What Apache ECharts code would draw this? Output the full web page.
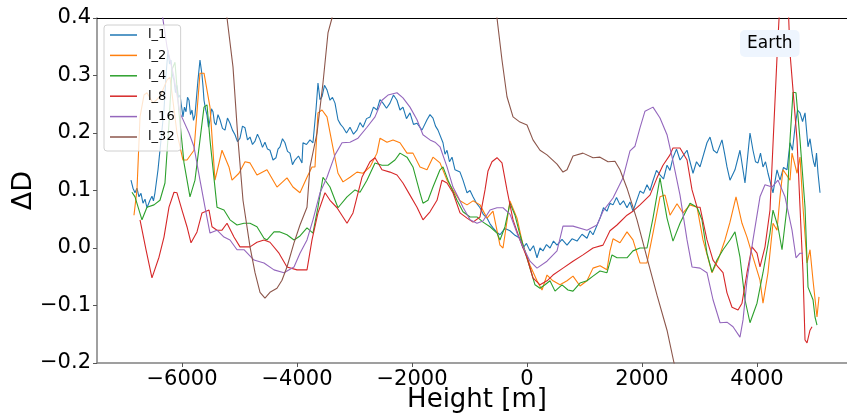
<!DOCTYPE html>
<html><head><meta charset="utf-8">
<script src="https://cdn.jsdelivr.net/npm/echarts@6/dist/echarts.min.js"></script>
<style>html,body{margin:0;padding:0;background:#fff}#c{width:847px;height:418px}</style>
</head><body><div id="c"></div>
<script>
const seriesNames = ['l_1','l_2','l_4','l_8','l_16','l_32'];
const xTicks = [-6000,-4000,-2000,0,2000,4000];
const yTicks = [-0.2,-0.1,0,0.1,0.2,0.3,0.4];

const l1X = [-6887,-6852,-6817,-6783,-6748,-6713,-6678,-6643,-6609,-6557,-6522,-6496,-6470,-6417,-6365,-6313,-6278,-6243,-6217,-6191,-6165,-6139,-6113,-6087,-6061,-6035,-5983,-5957,-5930,-5904,-5878,-5852,-5826,-5800,-5774,-5722,-5687,-5652,-5635,-5617,-5591,-5565,-5539,-5513,-5487,-5461,-5435,-5409,-5374,-5339,-5296,-5252,-5209,-5165,-5122,-5078,-5035,-4991,-4948,-4904,-4861,-4817,-4774,-4730,-4687,-4643,-4600,-4557,-4513,-4470,-4417,-4365,-4330,-4296,-4252,-4209,-4165,-4122,-4078,-4035,-3974,-3913,-3896,-3835,-3774,-3722,-3670,-3635,-3600,-3565,-3522,-3478,-3426,-3383,-3339,-3287,-3243,-3200,-3139,-3078,-3017,-2957,-2904,-2852,-2791,-2730,-2670,-2609,-2557,-2504,-2443,-2383,-2322,-2261,-2209,-2157,-2096,-2035,-1974,-1913,-1826,-1739,-1687,-1635,-1591,-1548,-1461,-1426,-1391,-1348,-1304,-1252,-1165,-1113,-1043,-991,-939,-878,-817,-757,-696,-643,-591,-530,-470,-383,-296,-209,-122,-70,-9,52,113,174,226,278,339,400,461,522,609,696,783,870,957,1043,1096,1148,1270,1330,1391,1443,1496,1557,1617,1678,1739,1791,1843,1965,2026,2087,2139,2191,2252,2313,2374,2435,2487,2539,2600,2661,2783,2835,2887,2948,3009,3130,3183,3243,3304,3391,3435,3478,3530,3617,3704,3791,3878,3930,3974,4017,4061,4104,4148,4191,4278,4348,4400,4461,4522,4574,4617,4661,4704,4748,4792,4835,4887,4922,4957,4983,5009,5035,5061,5096];
const l1Y = [0.118,0.104,0.096,0.104,0.089,0.095,0.078,0.085,0.070,0.083,0.090,0.082,0.096,0.136,0.188,0.240,0.301,0.344,0.320,0.327,0.300,0.292,0.270,0.283,0.262,0.266,0.228,0.245,0.237,0.262,0.257,0.232,0.240,0.222,0.231,0.292,0.327,0.301,0.282,0.257,0.242,0.231,0.210,0.223,0.242,0.237,0.218,0.214,0.232,0.223,0.208,0.205,0.226,0.217,0.205,0.197,0.185,0.191,0.212,0.209,0.188,0.193,0.180,0.186,0.198,0.188,0.175,0.184,0.172,0.170,0.153,0.157,0.172,0.176,0.190,0.183,0.168,0.165,0.145,0.153,0.160,0.148,0.183,0.180,0.188,0.183,0.240,0.287,0.258,0.263,0.283,0.275,0.257,0.262,0.252,0.223,0.215,0.210,0.200,0.210,0.198,0.205,0.218,0.210,0.225,0.228,0.245,0.240,0.258,0.252,0.243,0.252,0.266,0.257,0.240,0.245,0.225,0.235,0.215,0.217,0.205,0.223,0.232,0.226,0.212,0.205,0.183,0.163,0.170,0.150,0.158,0.136,0.132,0.118,0.096,0.100,0.089,0.078,0.070,0.058,0.052,0.042,0.035,0.028,0.023,0.034,0.030,0.022,0.017,0.000,0.008,-0.005,0.004,-0.017,0.000,-0.005,0.006,0.000,0.012,0.005,0.015,0.005,0.016,0.012,0.024,0.017,0.030,0.023,0.052,0.070,0.064,0.078,0.075,0.088,0.075,0.082,0.070,0.080,0.064,0.099,0.095,0.110,0.100,0.117,0.135,0.127,0.120,0.144,0.135,0.157,0.172,0.153,0.170,0.150,0.130,0.150,0.141,0.183,0.193,0.170,0.165,0.188,0.165,0.141,0.118,0.136,0.170,0.113,0.200,0.170,0.150,0.148,0.165,0.141,0.150,0.130,0.096,0.136,0.118,0.140,0.136,0.183,0.170,0.210,0.240,0.235,0.220,0.235,0.176,0.190,0.165,0.150,0.141,0.165,0.130,0.096];

const l2X = [-6835,-6783,-6730,-6661,-6609,-6504,-6383,-6261,-6209,-6087,-5983,-5913,-5791,-5687,-5617,-5513,-5426,-5304,-5183,-5130,-5009,-4904,-4817,-4696,-4522,-4348,-4174,-4070,-3948,-3826,-3739,-3687,-3635,-3565,-3478,-3391,-3287,-3200,-3078,-2957,-2852,-2730,-2609,-2556,-2435,-2330,-2209,-2087,-1983,-1861,-1739,-1635,-1513,-1391,-1287,-1165,-1043,-939,-817,-696,-591,-470,-417,-296,-174,-70,52,174,261,348,452,574,696,800,922,1043,1148,1270,1391,1443,1496,1617,1739,1843,1965,2087,2191,2313,2400,2487,2609,2713,2835,2957,3061,3217,3322,3443,3530,3635,3739,3826,3930,4052,4104,4191,4278,4348,4400,4452,4574,4609,4696,4748,4800,4870,4922,4974,5043,5078];
const l2Y = [0.057,0.101,0.228,0.266,0.270,0.252,0.263,0.292,0.297,0.200,0.153,0.153,0.170,0.304,0.304,0.245,0.118,0.170,0.141,0.118,0.130,0.150,0.148,0.127,0.136,0.106,0.122,0.106,0.096,0.123,0.141,0.141,0.235,0.240,0.228,0.183,0.130,0.115,0.123,0.132,0.130,0.141,0.165,0.191,0.184,0.188,0.183,0.165,0.165,0.141,0.136,0.158,0.148,0.118,0.101,0.082,0.075,0.082,0.075,0.052,0.064,0.005,0.000,0.082,0.052,0.005,-0.030,-0.057,-0.073,-0.047,-0.057,-0.064,-0.057,-0.049,-0.066,-0.057,-0.035,-0.031,-0.038,-0.005,0.016,0.009,0.028,0.014,-0.026,-0.026,0.026,0.089,0.092,0.057,0.077,0.061,0.075,0.071,0.014,-0.043,-0.021,0.014,0.045,0.089,0.043,0.019,-0.016,-0.056,-0.096,-0.043,0.043,0.031,0.089,0.136,0.118,0.165,0.130,0.158,0.071,-0.026,-0.003,-0.056,-0.120,-0.085];

const l4X = [-6870,-6817,-6696,-6609,-6487,-6383,-6296,-6226,-6174,-6122,-6052,-5965,-5861,-5774,-5687,-5617,-5565,-5513,-5391,-5270,-5165,-5043,-4922,-4817,-4696,-4574,-4522,-4400,-4296,-4174,-4052,-3948,-3826,-3722,-3635,-3548,-3426,-3287,-3130,-2991,-2904,-2783,-2643,-2522,-2417,-2296,-2209,-2087,-1983,-1861,-1809,-1722,-1635,-1513,-1461,-1374,-1217,-1113,-991,-870,-765,-643,-522,-470,-383,-296,-209,-122,17,139,226,313,400,487,609,713,800,922,1043,1148,1270,1391,1478,1565,1739,1843,1965,2087,2191,2313,2435,2539,2661,2748,2835,2957,3043,3130,3217,3304,3409,3530,3617,3704,3791,3878,4000,4104,4226,4278,4365,4435,4522,4574,4626,4678,4748,4835,4887,4974,5009,5043];
const l4Y = [0.097,0.089,0.049,0.071,0.075,0.083,0.113,0.217,0.310,0.323,0.235,0.148,0.089,0.118,0.188,0.245,0.249,0.188,0.071,0.066,0.049,0.040,0.043,0.043,0.037,0.017,0.014,0.028,0.028,0.023,0.014,0.021,0.035,0.026,0.071,0.123,0.106,0.070,0.089,0.101,0.097,0.118,0.148,0.144,0.144,0.153,0.165,0.158,0.141,0.096,0.078,0.083,0.106,0.136,0.141,0.118,0.083,0.063,0.054,0.054,0.045,0.037,0.026,0.014,0.037,0.078,0.057,0.023,-0.023,-0.064,-0.070,-0.064,-0.057,-0.075,-0.064,-0.073,-0.075,-0.061,-0.057,-0.049,-0.040,-0.043,-0.012,-0.017,-0.017,-0.005,0.000,0.000,0.052,0.122,0.052,0.012,0.043,0.061,0.078,0.071,0.049,-0.009,-0.042,-0.021,-0.003,0.014,0.028,-0.016,-0.090,-0.130,-0.096,-0.043,0.026,0.066,0.037,-0.003,0.071,0.188,0.271,0.270,0.188,0.071,-0.068,-0.090,-0.120,-0.134];

const l8X = [-6730,-6626,-6522,-6400,-6313,-6226,-6139,-6087,-6000,-5913,-5843,-5739,-5652,-5530,-5478,-5391,-5304,-5217,-5096,-4991,-4817,-4696,-4574,-4470,-4313,-4174,-4000,-3826,-3739,-3635,-3513,-3426,-3304,-3130,-3026,-2870,-2730,-2643,-2522,-2383,-2261,-2157,-2035,-1913,-1809,-1687,-1565,-1478,-1391,-1287,-1165,-1043,-939,-817,-730,-678,-609,-522,-435,-348,-243,-122,0,104,226,348,452,626,800,974,1148,1322,1443,1565,1739,1843,1965,2139,2261,2365,2487,2539,2661,2783,2870,2957,3009,3130,3235,3322,3409,3478,3565,3670,3739,3826,3913,4000,4052,4139,4226,4278,4348,4400,4470,4539,4574,4626,4696,4748,4800,4835,4870,4922,4957];
const l8Y = [0.049,-0.003,-0.052,-0.016,0.019,0.071,0.097,0.096,0.066,0.037,0.009,0.028,0.061,0.066,0.037,0.031,0.031,0.043,0.019,0.002,0.002,0.010,0.014,0.010,-0.009,-0.033,-0.038,-0.038,0.014,0.061,0.096,0.083,0.070,0.043,0.061,0.123,0.150,0.157,0.136,0.132,0.127,0.113,0.092,0.071,0.049,0.063,0.083,0.118,0.113,0.096,0.061,0.052,0.045,0.054,0.101,0.134,0.150,0.157,0.148,0.101,0.049,0.014,-0.017,-0.052,-0.064,-0.057,-0.047,-0.035,-0.023,-0.012,0.000,0.005,0.030,0.040,0.057,0.064,0.075,0.092,0.122,0.144,0.162,0.174,0.174,0.153,0.101,0.071,0.071,0.014,-0.021,-0.033,-0.043,-0.078,-0.103,-0.108,-0.096,-0.043,0.002,-0.009,-0.033,0.002,0.066,0.180,0.332,0.431,0.500,0.431,0.339,0.275,0.188,0.071,-0.043,-0.160,-0.165,-0.143,-0.137];

const l16X = [-6470,-6383,-6330,-6261,-6139,-6035,-5878,-5791,-5687,-5600,-5513,-5391,-5270,-5165,-5043,-4922,-4748,-4574,-4400,-4226,-4052,-3948,-3826,-3722,-3600,-3478,-3339,-3217,-3078,-2939,-2783,-2643,-2522,-2417,-2261,-2157,-2035,-1913,-1809,-1687,-1600,-1513,-1391,-1287,-1200,-1113,-991,-870,-765,-643,-522,-417,-296,-174,-70,52,174,348,522,626,800,1043,1217,1322,1496,1670,1791,1878,1965,2052,2191,2313,2435,2539,2661,2783,2870,3009,3130,3235,3357,3478,3583,3704,3757,3826,3930,4052,4139,4261,4365,4487,4609,4678,4748,4800];
const l16Y = [0.483,0.431,0.397,0.350,0.297,0.235,0.200,0.176,0.118,0.071,0.026,0.031,0.019,0.014,-0.003,-0.003,-0.021,-0.026,-0.038,-0.043,-0.033,-0.009,0.014,0.049,0.096,0.123,0.162,0.183,0.184,0.191,0.210,0.228,0.257,0.266,0.270,0.261,0.245,0.223,0.197,0.188,0.184,0.176,0.141,0.106,0.089,0.071,0.049,0.043,0.047,0.066,0.070,0.070,0.059,0.026,0.002,-0.023,-0.035,-0.023,-0.005,0.038,0.038,0.031,0.040,0.064,0.087,0.122,0.169,0.177,0.209,0.238,0.245,0.226,0.197,0.151,0.092,0.014,-0.033,-0.035,-0.043,-0.090,-0.130,-0.129,-0.137,-0.155,-0.125,-0.056,0.014,0.089,0.110,0.106,0.118,0.089,0.031,-0.017,-0.009,-0.009];

const l32X = [-5687,-5426,-5304,-5217,-5113,-5026,-4939,-4817,-4730,-4643,-4557,-4470,-4348,-4261,-4174,-4052,-3948,-3826,-3774,-3652,-3548,-3461,-3391,-3287,-1948,-609,-522,-435,-348,-243,-122,0,104,226,348,522,626,696,800,974,1148,1270,1409,1530,1617,1739,1913,2087,2261,2435,2557,2661];
const l32Y = [0.779,0.570,0.449,0.400,0.315,0.188,0.083,0.002,-0.043,-0.077,-0.087,-0.077,-0.070,-0.056,-0.033,0.009,0.040,0.071,0.141,0.200,0.287,0.374,0.400,0.483,1.478,0.483,0.400,0.327,0.263,0.228,0.219,0.214,0.188,0.170,0.162,0.146,0.132,0.136,0.160,0.165,0.157,0.158,0.150,0.151,0.136,0.104,0.049,-0.017,-0.082,-0.143,-0.200,-0.238];

const colors = ['#1f77b4','#ff7f0e','#2ca02c','#d62728','#9467bd','#8c564b'];
const xs = [l1X,l2X,l4X,l8X,l16X,l32X];
const ys = [l1Y,l2Y,l4Y,l8Y,l16Y,l32Y];

const fmt = v => (v < 0 ? '\u2212' : '') + String(Math.abs(v));
const fmtY = v => (v < 0 ? '\u2212' : '') + Math.abs(v).toFixed(1);

const chart = echarts.init(document.getElementById('c'), null, {renderer:'canvas'});
chart.setOption({
  animation: false,
  backgroundColor: '#fff',
  textStyle: {fontFamily: 'DejaVu Sans'},
  grid: {left: 97, top: 18, right: -10, bottom: 55, containLabel: false, outerBoundsMode: 'none'},
  legend: {
    data: seriesNames, orient: 'vertical', left: 104, top: 25,
    icon: 'rect', itemWidth: 27, itemHeight: 1.5, itemGap: 6.4,
    padding: [3, 6, 7, 6],
    backgroundColor: 'rgba(255,255,255,0.8)', borderColor: '#d0d0d0', borderWidth: 1, borderRadius: 3,
    textStyle: {fontFamily: 'DejaVu Sans', fontSize: 13, color: '#000', lineHeight: 14, padding: [0,0,0,6]}
  },
  xAxis: [{
    type: 'value', min: -7478, max: 5739,
    name: 'Height [m]', nameLocation: 'middle', nameGap: 24, nameMoveOverlap: false,
    nameTextStyle: {fontFamily: 'DejaVu Sans', fontSize: 26, color: '#000'},
    axisLine: {show: true, onZero: false, lineStyle: {color: '#808080', width: 1.5}},
    axisTick: {show: true, length: 4, customValues: xTicks, lineStyle: {color: '#555'}},
    axisLabel: {customValues: xTicks, formatter: fmt, fontSize: 21, color: '#000', margin: 6, fontFamily: 'DejaVu Sans'},
    splitLine: {show: false}
  }, {
    type: 'value', position: 'top', min: -7478, max: 5739,
    axisLine: {show: true, onZero: false, lineStyle: {color: '#000', width: 1.2}},
    axisTick: {show: false}, axisLabel: {show: false}, splitLine: {show: false}
  }],
  yAxis: {
    type: 'value', min: -0.2, max: 0.4,
    name: '\u0394D', nameLocation: 'middle', nameGap: 60, nameRotate: 90, nameMoveOverlap: false,
    nameTextStyle: {fontFamily: 'DejaVu Sans', fontSize: 27, color: '#000'},
    axisLine: {show: true, onZero: false, lineStyle: {color: '#808080', width: 1.5}},
    axisTick: {show: true, length: 4, customValues: yTicks, lineStyle: {color: '#555'}},
    axisLabel: {customValues: yTicks, formatter: fmtY, fontSize: 21, color: '#000', margin: 6, fontFamily: 'DejaVu Sans'},
    splitLine: {show: false}
  },
  series: seriesNames.map((n, i) => ({
    name: n, type: 'line', symbol: 'none', showSymbol: false, clip: true,
    data: xs[i].map((x, k) => [x, ys[i][k]]),
    lineStyle: {color: colors[i], width: 1.1}, itemStyle: {color: colors[i]},
    z: 2 + i * 0.01
  })),
  graphic: [{
    type: 'text', left: 740, top: 30, z: 100,
    style: {text: 'Earth', fontFamily: 'DejaVu Sans', fontSize: 17, fill: '#000',
      backgroundColor: '#eef5fe', padding: [5, 7, 5, 7], borderRadius: 5}
  }]
});
</script></body></html>
